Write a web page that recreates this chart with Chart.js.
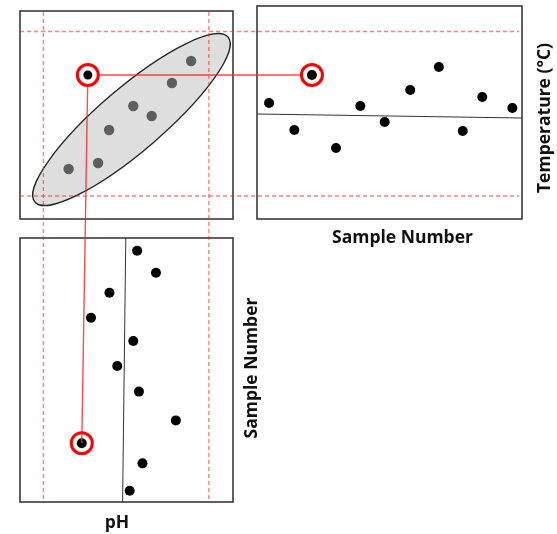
<!DOCTYPE html>
<html>
<head>
<meta charset="utf-8">
<script src="https://cdn.jsdelivr.net/npm/chart.js@4.4.1/dist/chart.umd.min.js"></script>
<style>
  body { margin: 0; background: #fff; }
  #wrap { position: relative; width: 557px; height: 534px; }
  #wrap canvas { position: absolute; }
</style>
</head>
<body>
<div id="wrap">
  <canvas id="scatter" width="240" height="228" style="left:0;top:0"></canvas>
  <canvas id="temp" width="307" height="250" style="left:250px;top:0"></canvas>
  <canvas id="ph" width="280" height="304" style="left:0;top:230px"></canvas>
  <canvas id="links" width="557" height="534" style="left:0;top:0;pointer-events:none"></canvas>
</div>
<script>
// run chart of temperature
const tempSample = [1, 2.05, 2.78, 3.78, 4.79, 5.8, 6.86, 8.05, 9.04, 9.85, 11.1];
const tempValues = [26.6, 23.9, 29.4, 22.1, 26.3, 24.7, 27.9, 30.2, 23.8, 27.2, 26.1];
const tempCenter = [25.5, 25.1];   // mean line, left end / right end
const tempLimits = [33.75, 17.3];  // upper, lower

// run chart of pH
const phSample = [1.03, 1.95, 2.78, 3.82, 4.79, 5.83, 6.9, 8.1, 9.05, 9.89, 11.03];
const phValues = [7.3, 7.83, 6.52, 6.0, 7.19, 6.74, 7.35, 8.39, 5.74, 7.45, 7.09];
const phCenter = [6.98, 6.89];     // mean line, top end / bottom end
const phLimits = [4.66, 9.32];     // lower, upper

// pH against temperature
const scatterPH = [8.82, 8.28, 7.19, 7.71, 6.51, 6.2, 5.37];
const scatterTemp = [30.8, 28.6, 26.3, 25.3, 23.9, 20.6, 20.0];
const outlier = [5.91, 29.4];      // pH, temperature
const tempOutlierIdx = 2;
const phOutlierIdx = 8;
const ellipseEnds = [[4.42, 16.7], [9.86, 33.2]];  // ends of the long axis

const sampleRange = [0.5, 11.5];
const phRange = [4, 10];
const tempRangeScatter = [15, 35.8];
const tempRangeRun = [15, 36.3];

const FONT = 'bold 17.5px "Open Sans", sans-serif';
const ringStyle = { pointRadius: 10.5, pointBorderWidth: 3, pointBorderColor: "#f00", pointBackgroundColor: "#fff" };

const boxPlugin = {
  id: "box",
  afterDatasetsDraw(chart) {
    const a = chart.chartArea;
    const ctx = chart.ctx;
    ctx.save();
    ctx.strokeStyle = "#3a3a3a";
    ctx.lineWidth = 1.6;
    ctx.strokeRect(a.left, a.top, a.right - a.left, a.bottom - a.top);
    ctx.restore();
  },
};

function baseOptions(padding, xr, yr, yReverse) {
  return {
    responsive: false,
    animation: false,
    layout: { padding: padding, autoPadding: false },
    plugins: { legend: { display: false }, tooltip: { enabled: false } },
    scales: {
      x: { type: "linear", display: false, min: xr[0], max: xr[1] },
      y: { type: "linear", display: false, min: yr[0], max: yr[1], reverse: !!yReverse },
    },
  };
}

function dots(xs, ys) {
  return xs.map((x, i) => ({ x: x, y: ys[i] }));
}

// --- scatter with ellipse ---
const ellipsePlugin = {
  id: "ellipse",
  beforeDatasetsDraw(chart) {
    const sx = chart.scales.x, sy = chart.scales.y;
    const x1 = sx.getPixelForValue(ellipseEnds[0][0]), y1 = sy.getPixelForValue(ellipseEnds[0][1]);
    const x2 = sx.getPixelForValue(ellipseEnds[1][0]), y2 = sy.getPixelForValue(ellipseEnds[1][1]);
    const a = Math.hypot(x2 - x1, y2 - y1) / 2;
    const ctx = chart.ctx;
    ctx.save();
    ctx.beginPath();
    ctx.ellipse((x1 + x2) / 2, (y1 + y2) / 2, a, a * 0.25, Math.atan2(y2 - y1, x2 - x1), 0, Math.PI * 2);
    ctx.fillStyle = "#dedede";
    ctx.fill();
    ctx.strokeStyle = "#222";
    ctx.lineWidth = 1.3;
    ctx.stroke();
    ctx.restore();
  },
};

const scatterChart = new Chart(document.getElementById("scatter"), {
  type: "scatter",
  data: {
    datasets: [
      { data: [{ x: outlier[0], y: outlier[1] }], pointRadius: 4.5, pointBackgroundColor: "#000", pointBorderWidth: 0 },
      Object.assign({ data: [{ x: outlier[0], y: outlier[1] }] }, ringStyle),
      { data: dots(scatterPH, scatterTemp), pointRadius: 5.2, pointBackgroundColor: "#5e5e5e", pointBorderWidth: 0 },
    ],
  },
  options: baseOptions({ left: 20, top: 11, right: 7, bottom: 9 }, phRange, tempRangeScatter),
  plugins: [ellipsePlugin, boxPlugin],
});

// --- temperature run chart ---
const tempLabels = {
  id: "tempLabels",
  afterDraw(chart) {
    const a = chart.chartArea;
    const ctx = chart.ctx;
    ctx.save();
    ctx.font = FONT;
    ctx.fillStyle = "#111";
    ctx.textAlign = "center";
    ctx.textBaseline = "middle";
    ctx.fillText("Sample Number", (a.left + a.right) / 2 + 13, 238);
    ctx.translate(295, 118);
    ctx.rotate(-Math.PI / 2);
    ctx.fillText("Temperature (°C)", 0, 0);
    ctx.restore();
  },
};

const tempChart = new Chart(document.getElementById("temp"), {
  type: "scatter",
  data: {
    datasets: [
      { data: dots(tempSample, tempValues), pointRadius: 5, pointBackgroundColor: "#000", pointBorderWidth: 0 },
      Object.assign({ data: [{ x: tempSample[tempOutlierIdx], y: tempValues[tempOutlierIdx] }] }, ringStyle),
      { data: dots(sampleRange, tempCenter), showLine: true, pointRadius: 0, borderColor: "#333", borderWidth: 1 },
    ],
  },
  options: baseOptions({ left: 7, top: 6, right: 35, bottom: 31 }, sampleRange, tempRangeRun),
  plugins: [boxPlugin, tempLabels],
});

// --- pH run chart (sample number runs downwards) ---
const phLabels = {
  id: "phLabels",
  afterDraw(chart) {
    const ctx = chart.ctx;
    ctx.save();
    ctx.font = FONT;
    ctx.fillStyle = "#111";
    ctx.textAlign = "center";
    ctx.textBaseline = "middle";
    ctx.fillText("pH", 117, 293);
    ctx.translate(252, 138);
    ctx.rotate(-Math.PI / 2);
    ctx.fillText("Sample Number", 0, 0);
    ctx.restore();
  },
};

const phChart = new Chart(document.getElementById("ph"), {
  type: "scatter",
  data: {
    datasets: [
      { data: dots(phValues, phSample), pointRadius: 5, pointBackgroundColor: "#000", pointBorderWidth: 0 },
      Object.assign({ data: [{ x: phValues[phOutlierIdx], y: phSample[phOutlierIdx] }] }, ringStyle),
      { data: dots(phCenter, sampleRange), showLine: true, pointRadius: 0, borderColor: "#333", borderWidth: 1 },
    ],
  },
  options: baseOptions({ left: 20, top: 8, right: 47, bottom: 32 }, phRange, sampleRange, true),
  plugins: [boxPlugin, phLabels],
});

// --- limit lines and links drawn across the three panels ---
function pageX(chart, v) { return chart.scales.x.getPixelForValue(v) + chart.canvas.offsetLeft; }
function pageY(chart, v) { return chart.scales.y.getPixelForValue(v) + chart.canvas.offsetTop; }

function drawLinks() {
  const ctx = document.getElementById("links").getContext("2d");
  ctx.clearRect(0, 0, 557, 534);
  const left = scatterChart.chartArea.left;
  const right = tempChart.chartArea.right + tempChart.canvas.offsetLeft - 3;
  const top = scatterChart.chartArea.top + 1;
  const bottom = phChart.chartArea.bottom + phChart.canvas.offsetTop - 2;

  ctx.save();
  ctx.strokeStyle = "rgba(255, 40, 40, 0.6)";
  ctx.lineWidth = 1.4;
  ctx.setLineDash([4, 3]);
  tempLimits.forEach((t) => {
    const y = pageY(tempChart, t);
    ctx.beginPath();
    ctx.moveTo(left, y);
    ctx.lineTo(right, y);
    ctx.stroke();
  });
  phLimits.forEach((p) => {
    const x = pageX(scatterChart, p);
    ctx.beginPath();
    ctx.moveTo(x, top);
    ctx.lineTo(x, bottom);
    ctx.stroke();
  });
  ctx.restore();

  const ox = pageX(scatterChart, outlier[0]), oy = pageY(scatterChart, outlier[1]);
  const tx = pageX(tempChart, tempSample[tempOutlierIdx]), ty = pageY(tempChart, tempValues[tempOutlierIdx]);
  const px = pageX(phChart, phValues[phOutlierIdx]), py = pageY(phChart, phSample[phOutlierIdx]);
  const r = 12;
  ctx.save();
  ctx.strokeStyle = "rgba(255, 30, 30, 0.8)";
  ctx.lineWidth = 1.4;
  ctx.beginPath();
  ctx.moveTo(ox + r, oy);
  ctx.lineTo(tx - r, ty);
  const d = Math.hypot(px - ox, py - oy);
  ctx.moveTo(ox + (px - ox) * r / d, oy + (py - oy) * r / d);
  ctx.lineTo(px, py);
  ctx.stroke();
  ctx.restore();
}

drawLinks();
</script>
</body>
</html>
